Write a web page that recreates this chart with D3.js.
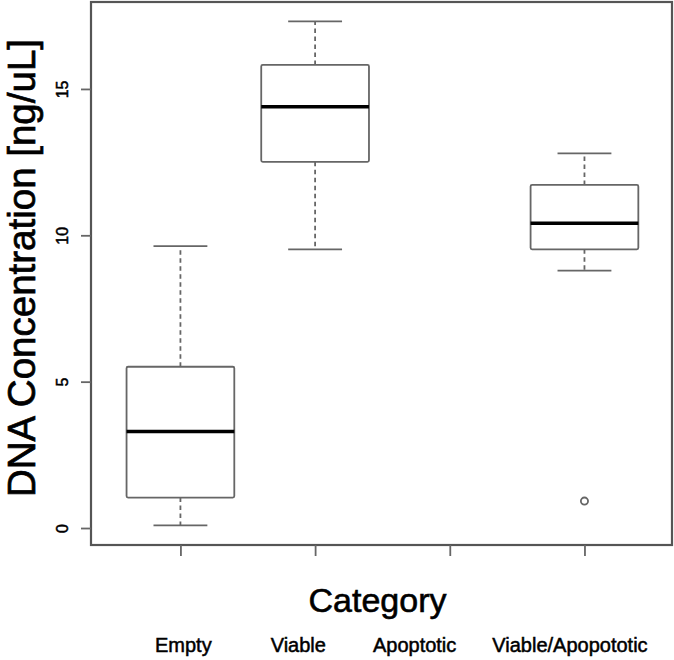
<!DOCTYPE html>
<html>
<head>
<meta charset="utf-8">
<script src="https://cdn.jsdelivr.net/npm/d3@7"></script>
<style>
  html, body { margin: 0; padding: 0; background: #fff; }
  svg { display: block; font-family: "Liberation Sans", Arial, sans-serif; }
</style>
</head>
<body>
<svg id="chart" width="674" height="660"></svg>
<script>
// ---- data ----
const categories = ["Empty", "Viable", "Apoptotic", "Viable/Apopototic"];
const whiskerLow  = [0.09, 9.52, null, 8.79];
const q1          = [1.04, 12.51, null, 9.52];
const median      = [3.30, 14.39, null, 10.41];
const q3          = [5.51, 15.82, null, 11.72];
const whiskerHigh = [9.63, 17.31, null, 12.80];
const outliers    = [[], [], [], [0.92]];
const yTicks      = [0, 5, 10, 15];
const yTitle = "DNA Concentration [ng/uL]";
const xTitle = "Category";

// ---- layout ----
const frame = { left: 91, right: 672, top: 2, bottom: 545 };
const svg = d3.select("#chart");

const x = d3.scaleLinear().domain([0.336, 4.65]).range([frame.left, frame.right]);
const y = d3.scaleLinear().domain([-0.58, 17.97]).range([frame.bottom, frame.top]);

const boxHalf = 0.4, stapleHalf = 0.2;
const grey = "#666";

const stats = categories.map((c, i) => ({
  cat: c, pos: i + 1,
  lo: whiskerLow[i], q1: q1[i], med: median[i], q3: q3[i], hi: whiskerHigh[i],
  out: outliers[i]
})).filter(d => d.med != null);

const g = svg.append("g");

// whiskers (dashed)
g.selectAll(".wlo").data(stats).join("line")
  .attr("x1", d => x(d.pos)).attr("x2", d => x(d.pos))
  .attr("y1", d => y(d.q1)).attr("y2", d => y(d.lo))
  .attr("stroke", grey).attr("stroke-width", 1.8).attr("stroke-dasharray", "4.5,3.5");
g.selectAll(".whi").data(stats).join("line")
  .attr("x1", d => x(d.pos)).attr("x2", d => x(d.pos))
  .attr("y1", d => y(d.q3)).attr("y2", d => y(d.hi))
  .attr("stroke", grey).attr("stroke-width", 1.8).attr("stroke-dasharray", "4.5,3.5");
// staples
["lo", "hi"].forEach(k => {
  g.selectAll(".st" + k).data(stats).join("line")
    .attr("x1", d => x(d.pos - stapleHalf)).attr("x2", d => x(d.pos + stapleHalf))
    .attr("y1", d => y(d[k])).attr("y2", d => y(d[k]))
    .attr("stroke", grey).attr("stroke-width", 1.8);
});
// boxes
g.selectAll(".box").data(stats).join("rect")
  .attr("x", d => x(d.pos - boxHalf))
  .attr("width", d => x(d.pos + boxHalf) - x(d.pos - boxHalf))
  .attr("y", d => y(d.q3))
  .attr("height", d => y(d.q1) - y(d.q3))
  .attr("fill", "#fff").attr("stroke", grey).attr("stroke-width", 1.8)
  .attr("rx", 1.5);
// medians
g.selectAll(".med").data(stats).join("line")
  .attr("x1", d => x(d.pos - boxHalf)).attr("x2", d => x(d.pos + boxHalf))
  .attr("y1", d => y(d.med)).attr("y2", d => y(d.med))
  .attr("stroke", "#000").attr("stroke-width", 3.5);
// outliers
const outPts = stats.flatMap(d => d.out.map(v => ({ pos: d.pos, v })));
g.selectAll(".out").data(outPts).join("circle")
  .attr("cx", d => x(d.pos)).attr("cy", d => y(d.v)).attr("r", 3.6)
  .attr("fill", "none").attr("stroke", grey).attr("stroke-width", 1.8);

// frame
svg.append("rect")
  .attr("x", frame.left).attr("y", frame.top)
  .attr("width", frame.right - frame.left).attr("height", frame.bottom - frame.top)
  .attr("fill", "none").attr("stroke", "#555").attr("stroke-width", 2.2);

// y axis
const yAxis = svg.append("g").attr("transform", `translate(${frame.left},0)`)
  .call(d3.axisLeft(y).tickValues(yTicks).tickSize(10).tickFormat(d3.format("d")));
yAxis.select(".domain").remove();
yAxis.selectAll(".tick line").attr("stroke", grey).attr("stroke-width", 1.8);
yAxis.selectAll(".tick text")
  .attr("x", null).attr("dy", null)
  .attr("text-anchor", "middle")
  .attr("transform", "translate(-23,0) rotate(-90)")
  .attr("font-size", 16).attr("fill", "#000")
  .attr("stroke", "#000").attr("stroke-width", 0.5)
  .attr("font-family", "Liberation Sans, Arial, sans-serif");

// x axis
const xAxis = svg.append("g").attr("transform", `translate(0,${frame.bottom})`)
  .call(d3.axisBottom(x).tickValues(categories.map((c, i) => i + 1)).tickSize(11).tickFormat(""));
xAxis.select(".domain").remove();
xAxis.selectAll(".tick line").attr("stroke", grey).attr("stroke-width", 1.8);

// titles
svg.append("text")
  .attr("transform", "translate(35,268) rotate(-90)")
  .attr("text-anchor", "middle").attr("font-size", 38.5).attr("fill", "#000")
  .attr("stroke", "#000").attr("stroke-width", 0.7)
  .text(yTitle);
svg.append("text")
  .attr("x", 377.5).attr("y", 612)
  .attr("text-anchor", "middle").attr("font-size", 34).attr("fill", "#000")
  .attr("stroke", "#000").attr("stroke-width", 0.6)
  .text(xTitle);

// category names row (laid out as one line of spaced words)
const gaps = [59, 47, 36];
let cx = 155;
categories.forEach((c, i) => {
  const t = svg.append("text")
    .attr("x", cx).attr("y", 652)
    .attr("font-size", 20).attr("fill", "#000")
    .attr("stroke", "#000").attr("stroke-width", 0.5)
    .text(c);
  cx += t.node().getComputedTextLength() + (gaps[i] || 0);
});
</script>
</body>
</html>
